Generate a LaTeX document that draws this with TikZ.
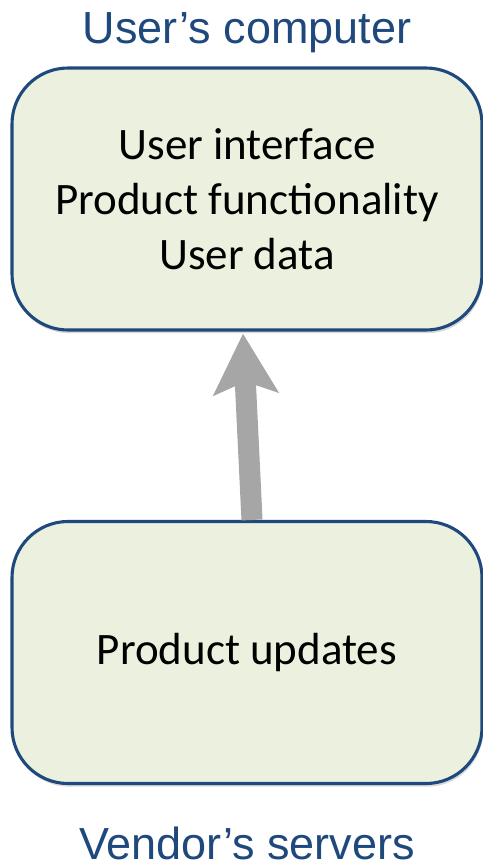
\documentclass[tikz,border=0pt]{standalone}
\usepackage{fontspec}
\setmainfont{Carlito}
\newfontfamily\tierfont{Liberation Sans}
\usepackage{xcolor}
\usepackage{tikz}
\definecolor{tierblue}{RGB}{31, 73, 125}
\definecolor{tierfill}{RGB}{235, 241, 222}
\definecolor{arrowgray}{RGB}{166, 166, 166}
\usetikzlibrary{shapes,arrows.meta,positioning,shadows}

\begin{document}
\begin{tikzpicture}[
    tierbox/.style={draw=tierblue, fill=tierfill, line width=2.2pt, rounded corners=1.4cm, minimum width=11.75cm, minimum height=6.55cm, align=center, font=\fontsize{32}{39}\selectfont, drop shadow={shadow xshift=0.03cm, shadow yshift=-0.08cm, fill=black, opacity=0.15}},
    tierlabel/.style={text=tierblue, font=\tierfont\fontsize{32}{38}\selectfont}
]
    \useasboundingbox (0,0) rectangle (12.075,-21.675);
    \node[tierbox] (client) at (6.175,-4.975) {User interface\\Product functionality\\User data};
    \node[tierbox] (updates) at (6.175,-16.3125) {Product updates};
    \node[tierlabel] (clientlabel) at (6.175,-0.82) {User’s computer};
    \node[tierlabel] (vendorlabel) at (6.175,-21.08) {Vendor’s servers};
    \draw[-{Stealth[length=1.5cm, width=1.6cm, inset=0.3cm]}, line width=15pt, arrowgray] ([xshift=0.125cm]updates.north) -- ([xshift=-0.1cm, yshift=-0.05cm]client.south);
\end{tikzpicture}
\end{document}
